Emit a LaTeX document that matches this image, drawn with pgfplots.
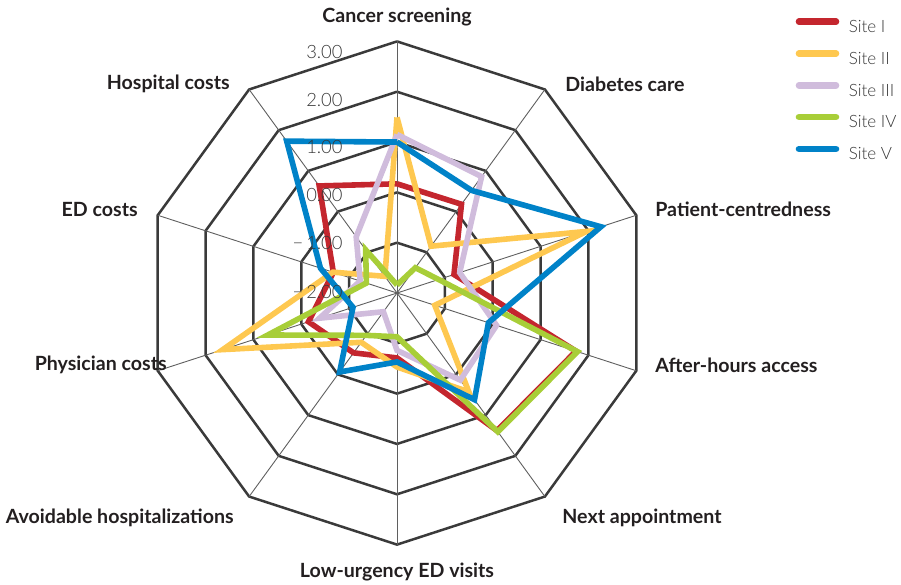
\documentclass[border=0pt]{standalone}
\usepackage{fontspec}
\setmainfont{Lato}
\IfFontExistsTF{Lato Light}{\newfontfamily\lightfont{Lato Light}}{\newfontfamily\lightfont{Lato}}
\usepackage{pgfplots}
\pgfplotsset{compat=1.18}
\usepackage{pgfplotstable}

\definecolor{cI}{RGB}{196,38,46}
\definecolor{cII}{RGB}{254,200,80}
\definecolor{cIII}{RGB}{208,188,220}
\definecolor{cIV}{RGB}{168,206,56}
\definecolor{cV}{RGB}{0,130,200}
\definecolor{ringc}{RGB}{58,58,58}
\definecolor{spokec}{RGB}{95,95,95}
\definecolor{txt}{RGB}{35,31,32}
\definecolor{ticktxt}{RGB}{55,55,55}

% angle (deg) and values of the five sites
\pgfplotstableread{
a     s1     s2     s3     s4     s5
90    0.17   1.49   1.15  -1.84   1.00
54    0.18  -0.85   0.86  -1.38   0.52
18   -0.81   1.96  -0.69  -1.13   2.26
-18   1.74  -1.21   0.08   1.77  -0.09
-54   1.38   0.43   0.14   1.41   0.62
-90  -0.71  -0.53  -0.86  -1.13  -0.63
-126 -0.53  -0.79  -1.54  -0.96  -0.06
-162 -0.15   1.64  -0.38   0.70  -1.08
-198 -0.67  -0.66  -1.23  -1.36  -0.40
-234  0.63  -1.59  -0.62  -0.94   1.73
-270  0.17   1.49   1.15  -1.84   1.00
}\data

\begin{document}
\begin{tikzpicture}
\begin{axis}[
  x=25.16pt, y=25.16pt,
  xmin=-7.890, xmax=10.016, ymin=-5.783, ymax=5.823,
  hide axis, clip=false,
  data cs=polar,
  legend style={at={(axis cs:7.915,5.465)}, anchor=north west, draw=none, fill=none,
    inner sep=0pt, row sep=6.65pt, column sep=4.8pt,
    font=\lightfont\fontsize{8.5}{10}\selectfont, text=ticktxt,
    nodes={inner sep=0pt, text height=6.8pt, text depth=2.2pt}},
  legend cell align=left,
  legend image code/.code={\draw[#1, line cap=round, line width=3.3pt] (0pt,3.1pt) -- (18.5pt,3.1pt);},
]
% rings
\foreach \r in {1,2,3,4,5}{
  \edef\tmp{\noexpand\addplot[forget plot, ringc, line width=1.25pt, line join=miter] coordinates {(90,\r) (54,\r) (18,\r) (-18,\r) (-54,\r) (-90,\r) (-126,\r) (-162,\r) (-198,\r) (-234,\r) (-270,\r)};}
  \tmp
}
% spokes
\foreach \t in {90,54,18,-18,-54,-90,-126,-162,-198,-234}{
  \edef\tmp{\noexpand\addplot[forget plot, spokec, line width=0.45pt] coordinates {(\t,0) (\t,5)};}
  \tmp
}
% series
\addplot[cI, line width=2.8pt, line join=miter] table[x=a, y expr=\thisrow{s1}+2] {\data};
\addlegendentry{Site I}
\addplot[cII, line width=2.8pt, line join=miter] table[x=a, y expr=\thisrow{s2}+2] {\data};
\addlegendentry{Site II}
\addplot[cIII, line width=2.8pt, line join=miter] table[x=a, y expr=\thisrow{s3}+2] {\data};
\addlegendentry{Site III}
\addplot[cIV, line width=2.8pt, line join=miter] table[x=a, y expr=\thisrow{s4}+2] {\data};
\addlegendentry{Site IV}
\addplot[cV, line width=2.8pt, line join=miter] table[x=a, y expr=\thisrow{s5}+2] {\data};
\addlegendentry{Site V}

% radial tick labels
\begin{scope}[every node/.style={anchor=east, inner sep=0pt, text=ticktxt, font=\lightfont\fontsize{9.2}{10}\selectfont}]
\node at (axis cs:-1.074,4.79) {3.00};
\node at (axis cs:-1.074,3.837) {2.00};
\node at (axis cs:-1.074,2.897) {1.00};
\node at (axis cs:-1.074,1.948) {0.00};
\node at (axis cs:-1.074,0.988) {−\,1.00};
\node at (axis cs:-1.074,0.026) {−\,2.00};
\end{scope}

% category labels
\begin{scope}[every node/.style={inner sep=0pt, text=txt, font=\bfseries\fontsize{9.8}{11}\selectfont}]
\node[anchor=center] at (axis cs:0,5.485) {Cancer screening};
\node[anchor=west] at (axis cs:3.339,4.153) {Diabetes care};
\node[anchor=west] at (axis cs:5.127,1.669) {Patient-centredness};
\node[anchor=west] at (axis cs:5.127,-1.431) {After-hours access};
\node[anchor=west] at (axis cs:3.279,-4.471) {Next appointment};
\node[anchor=center] at (axis cs:0,-5.545) {Low-urgency ED visits};
\node[anchor=east] at (axis cs:-3.239,-4.471) {Avoidable hospitalizations};
\node[anchor=east] at (axis cs:-4.571,-1.431) {Physician costs};
\node[anchor=east] at (axis cs:-5.147,1.669) {ED costs};
\node[anchor=east] at (axis cs:-3.319,4.153) {Hospital costs};
\end{scope}

\path (axis cs:-7.890,-5.783) rectangle (axis cs:10.016,5.823);
\end{axis}
\end{tikzpicture}
\end{document}
